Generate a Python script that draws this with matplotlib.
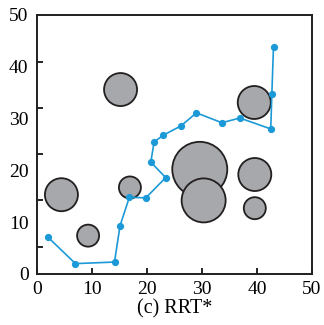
#! /usr/bin/env python3

import matplotlib
matplotlib.use('Agg')
import matplotlib.pyplot as plt
from matplotlib.patches import Ellipse

# obstacles (centre x, centre y, radius)
obs_x = [29.6, 30.3, 39.6, 39.6, 39.5, 16.9, 15.2, 4.45, 9.3]
obs_y = [20.2, 14.2, 19.2, 12.7, 33.1, 16.7, 35.6, 15.3, 7.4]
obs_r = [5.0, 4.0, 3.0, 2.0, 3.0, 2.0, 3.0, 3.0, 2.0]

# RRT* path
path_x = [2.0, 7.0, 14.1, 15.1, 16.8, 19.8, 23.4, 20.7, 21.3, 23.0, 26.2,
          29.0, 33.6, 36.9, 42.5, 42.7, 43.0]
path_y = [7.1, 2.0, 2.3, 9.3, 14.8, 14.7, 18.6, 21.6, 25.5, 26.8, 28.6,
          31.1, 29.2, 30.1, 28.0, 34.7, 43.9]

ticks = [0, 10, 20, 30, 40, 50]
yticks_marks = [5.3, 14.2, 23.1, 32.0, 40.9]

plt.rcParams['font.family'] = ['Liberation Serif', 'DejaVu Serif']

fig = plt.figure(figsize=(3.24, 3.25), dpi=100)
ax = fig.add_axes([0.114, 0.157, 0.849, 0.797])

# circles should look round in pixels
aspect = (0.849 * 324 / 50) / (0.797 * 325 / 50)
for x, y, r in zip(obs_x, obs_y, obs_r):
	e = Ellipse((x, y), 2*r, 2*r*aspect, facecolor='#a7a8ab',
	            edgecolor='#231f20', lw=1.3, zorder=2)
	ax.add_patch(e)

ax.plot(path_x, path_y, '-o', color='#1b9ad7', lw=1.2, ms=4.2, zorder=3)

ax.set_xlim(0, 50)
ax.set_ylim(0, 50)
ax.set_xticks(ticks)
ax.set_xticklabels([str(t) for t in ticks])
ax.set_yticks(ticks)
ax.set_yticklabels([str(t) for t in ticks])
ax.set_yticks(yticks_marks, minor=True)
ax.tick_params(axis='x', direction='in', length=4, width=1.2, labelsize=14, pad=5)
ax.tick_params(axis='y', which='major', length=0, labelsize=14, pad=6)
ax.tick_params(axis='y', which='minor', direction='in', length=4, width=1.2)
for s in ax.spines.values():
	s.set_linewidth(1.4)
	s.set_color('#231f20')

ax.set_xlabel('(c) RRT*', fontsize=14.5, labelpad=1)

fig.savefig('out.png', dpi=100)
